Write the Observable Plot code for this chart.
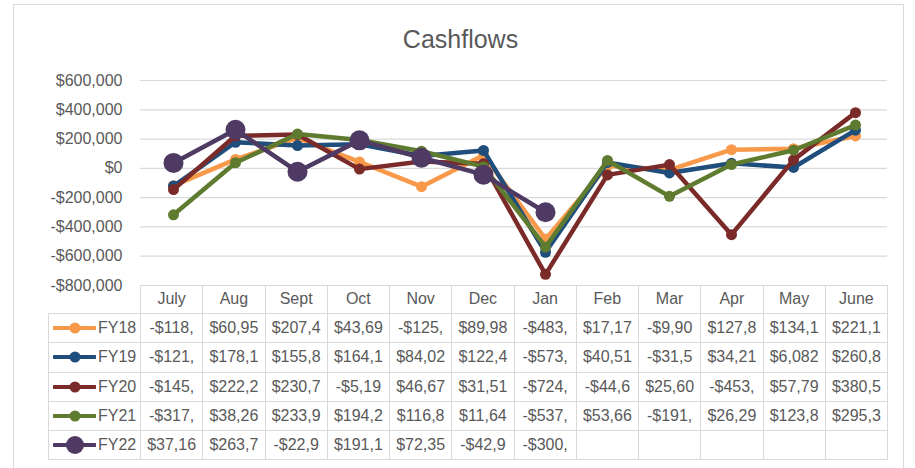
<!DOCTYPE html>
<html>
<head>
<meta charset="utf-8">
<script src="https://cdn.jsdelivr.net/npm/d3@7"></script>
<script src="https://cdn.jsdelivr.net/npm/@observablehq/plot@0.6"></script>
<style>
  html, body { margin: 0; padding: 0; background: #fff; }
  #wrap { position: relative; width: 915px; height: 468px; overflow: hidden; font-family: "Liberation Sans", Arial, sans-serif; color: #595959; }
  #frame { position: absolute; left: 13px; top: 4px; width: 891px; height: 500px; border: 1.5px solid #d9d9d9; box-sizing: border-box; }
  #title { position: absolute; left: 0; top: 25px; width: 921px; text-align: center; font-size: 25px; line-height: normal; color: #595959; }
  #plot { position: absolute; left: 0; top: 0; }
  #table { position: absolute; left: 48px; top: 284.5px; border-collapse: collapse; table-layout: fixed; font-size: 16px; color: #595959; }
  #table td, #table th { border: 1px solid #d9d9d9; padding: 0; text-align: center; white-space: nowrap; overflow: hidden; font-weight: normal; }
  #table tr { height: 29.3px; }
  #table tr.head { height: 28.5px; }
  #table th.blank { border-top: none; border-left: none; }
  #table td.leg { text-align: left; padding-left: 4px; }
  #table td.leg svg { vertical-align: middle; margin-right: 2px; }
  #table td.leg span { vertical-align: middle; }
</style>
</head>
<body>
<div id="wrap">
  <div id="frame"></div>
  <div id="title">Cashflows</div>
  <div id="plot"></div>
  <table id="table"></table>
</div>
<script>
// ---- data ----
const months = ["July","Aug","Sept","Oct","Nov","Dec","Jan","Feb","Mar","Apr","May","June"];
const seriesNames = ["FY18","FY19","FY20","FY21","FY22"];
const colors = ["#F8994A","#1F4E7C","#7A2B29","#5F7B2F","#4E3A62"];
const markerRadius = [5.5, 5.5, 5.5, 5.5, 10];
const fy18 = [-118000, 60950, 207400, 43690, -125000, 89980, -483000, 17170, -9900, 127800, 134100, 221100];
const fy19 = [-121000, 178100, 155800, 164100, 84020, 122400, -573000, 40510, -31500, 34210, 6082, 260800];
const fy20 = [-145000, 222200, 230700, -5190, 46670, 31510, -724000, -44600, 25600, -453000, 57790, 380500];
const fy21 = [-317000, 38260, 233900, 194200, 116800, 11640, -537000, 53660, -191000, 26290, 123800, 295300];
const fy22 = [37160, 263700, -22900, 191100, 72350, -42900, -300000, null, null, null, null, null];
const yTicks = [-800000, -600000, -400000, -200000, 0, 200000, 400000, 600000];

const allValues = [fy18, fy19, fy20, fy21, fy22];
const rows = [];
seriesNames.forEach((s, i) => {
  months.forEach((m, j) => {
    const v = allValues[i][j];
    if (v != null) rows.push({series: s, month: m, value: v});
  });
});

const money = v => (v < 0 ? "-" : "") + "$" + d3.format(",")(Math.abs(Math.round(v)));
const cellText = v => v == null ? "" : money(v).slice(0, 6);

const marks = [
  Plot.gridY(yTicks, {stroke: "#d9d9d9", strokeOpacity: 1, strokeWidth: 1.2}),
  Plot.axisY(yTicks, {tickSize: 0, tickPadding: 18, tickFormat: money, fontSize: 16, fill: "#595959", label: null})
];
seriesNames.forEach((s, i) => {
  const d = rows.filter(r => r.series === s);
  marks.push(Plot.line(d, {x: "month", y: "value", stroke: colors[i], strokeWidth: 4.5, strokeLinejoin: "round", strokeLinecap: "round"}));
  marks.push(Plot.dot(d, {x: "month", y: "value", fill: colors[i], r: markerRadius[i], stroke: "none"}));
});

const chart = Plot.plot({
  width: 915,
  height: 468,
  marginTop: 80,
  marginBottom: 183,
  marginLeft: 140,
  marginRight: 28,
  style: {fontFamily: "'Liberation Sans', Arial, sans-serif", fontSize: "16px", color: "#595959", background: "transparent", overflow: "visible"},
  x: {type: "band", domain: months, padding: 0, axis: null, label: null},
  y: {domain: [-800000, 600000], axis: null, label: null},
  marks
});
document.getElementById("plot").appendChild(chart);

// ---- data table below the plot ----
const table = document.getElementById("table");
const colgroup = document.createElement("colgroup");
const c0 = document.createElement("col"); c0.style.width = "92px"; colgroup.appendChild(c0);
months.forEach(() => { const c = document.createElement("col"); c.style.width = "62.25px"; colgroup.appendChild(c); });
table.appendChild(colgroup);
table.style.width = (92 + 62.25 * 12) + "px";

const head = document.createElement("tr"); head.className = "head";
const blank = document.createElement("th"); blank.className = "blank"; head.appendChild(blank);
months.forEach(m => { const th = document.createElement("th"); th.textContent = m; head.appendChild(th); });
table.appendChild(head);

seriesNames.forEach((s, i) => {
  const tr = document.createElement("tr");
  const leg = document.createElement("td"); leg.className = "leg";
  const r = i === 4 ? 9 : 5.5;
  leg.innerHTML = `<svg width="43" height="20"><line x1="1" x2="42" y1="10" y2="10" stroke="${colors[i]}" stroke-width="4" stroke-linecap="round"/><circle cx="22" cy="10" r="${r}" fill="${colors[i]}"/></svg><span>${s}</span>`;
  tr.appendChild(leg);
  months.forEach((m, j) => {
    const td = document.createElement("td");
    td.textContent = cellText(allValues[i][j]);
    tr.appendChild(td);
  });
  table.appendChild(tr);
});
</script>
</body>
</html>
